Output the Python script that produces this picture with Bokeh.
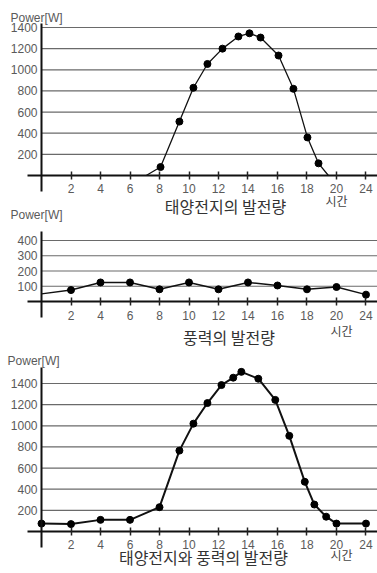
from bokeh.plotting import figure
from bokeh.models import LinearAxis, FixedTicker, Label, Range1d
from bokeh.embed import file_html
from bokeh.resources import INLINE

# ---------------- data ----------------
x_tick_hours = [2, 4, 6, 8, 10, 12, 14, 16, 18, 20, 24]
x_tick_labels = ["2", "4", "6", "8", "10", "12", "14", "16", "18", "20", "24"]

solar_hours = [7.1, 8.07, 9.35, 10.3, 11.25, 12.27, 13.35, 14.1, 14.85, 16.07, 17.08, 18.03, 18.78, 19.45]
solar_power = [0, 80, 510, 830, 1055, 1200, 1315, 1345, 1305, 1135, 820, 360, 115, 0]

wind_hours = [0, 2, 4, 6, 8, 10, 12, 14, 16, 18, 20, 24]
wind_power = [50, 75, 125, 125, 80, 125, 80, 125, 105, 80, 95, 45]

total_hours = [0, 2, 4, 6, 8, 9.35, 10.3, 11.25, 12.2, 13.0, 13.55, 14.7, 15.85, 16.8, 17.85, 18.5, 19.3, 20, 24]
total_power = [75, 70, 110, 110, 230, 765, 1020, 1215, 1385, 1455, 1510, 1445, 1245, 905, 470, 255, 140, 75, 75]

y_ticks_solar = [200, 400, 600, 800, 1000, 1200, 1400]
y_ticks_wind = [100, 200, 300, 400]
y_ticks_total = [200, 400, 600, 800, 1000, 1200, 1400]

titles = ["태양전지의 발전량", "풍력의 발전량", "태양전지와 풍력의 발전량"]
unit_label = "Power[W]"
time_label = "시간"

# -------------- helpers ---------------
def hpos(h):
    # the axis is drawn with "24" one step after "20"
    return h if h <= 20 else 20 + (h - 20) / 2.0

KFONT = "Noto Sans CJK KR"
NFONT = "Liberation Sans"
X0, X1 = -2.78, 22.78

p = figure(width=377, height=573, output_backend="svg", toolbar_location=None,
           x_range=Range1d(X0, X1), y_range=Range1d(0, 1),
           x_axis_type=None, y_axis_type=None,
           min_border=0, min_border_left=0, min_border_right=0,
           min_border_top=0, min_border_bottom=0)
p.outline_line_color = None
p.background_fill_color = "white"
p.border_fill_color = "white"
p.grid.visible = False

p.extra_y_ranges = {
    "solar": Range1d(-3764.7, 1655.3),
    "wind": Range1d(-1783.5, 1973.7),
    "total": Range1d(-397.3, 5022.7),
}


def add_chart(rname, ybounds, yticks, hours, power, marker_idx, line_w,
              power_lbl_xy, title_xy, time_xy, title_text):
    # horizontal grid lines starting at the y axis
    n = len(yticks)
    p.segment(x0=[0] * n, y0=yticks, x1=[X1] * n, y1=yticks, y_range_name=rname,
              line_color="#6a6a6a", line_width=1.2)

    # x axis crossing at y = 0
    xpos = [hpos(h) for h in x_tick_hours]
    xaxis = LinearAxis(ticker=FixedTicker(ticks=xpos), fixed_location=0,
                       y_range_name=rname, bounds=(-0.95, X1),
                       major_label_overrides={xp: lab for xp, lab in zip(xpos, x_tick_labels)})
    xaxis.axis_line_width = 2
    xaxis.axis_line_color = "#111111"
    xaxis.major_tick_in = 4
    xaxis.major_tick_out = 4
    xaxis.major_tick_line_width = 1.5
    xaxis.major_tick_line_color = "#222222"
    xaxis.minor_tick_line_color = None
    xaxis.major_label_standoff = 5
    xaxis.major_label_text_font = NFONT
    xaxis.major_label_text_font_size = "12px"
    xaxis.major_label_text_color = "#5a5a5a"
    p.add_layout(xaxis, "below")

    # y axis crossing at x = 0
    yaxis = LinearAxis(ticker=FixedTicker(ticks=yticks), fixed_location=0,
                       y_range_name=rname, bounds=ybounds)
    yaxis.axis_line_width = 2
    yaxis.axis_line_color = "#111111"
    yaxis.major_tick_in = 0
    yaxis.major_tick_out = 0
    yaxis.minor_tick_line_color = None
    yaxis.major_label_standoff = 4
    yaxis.major_label_text_font = NFONT
    yaxis.major_label_text_font_size = "12px"
    yaxis.major_label_text_color = "#5a5a5a"
    p.add_layout(yaxis, "left")

    xs = [hpos(h) for h in hours]
    p.line(xs, power, y_range_name=rname, line_color="#111111", line_width=line_w)
    mx = [xs[i] for i in marker_idx]
    my = [power[i] for i in marker_idx]
    p.scatter(mx, my, y_range_name=rname, size=7, fill_color="black", line_color="black")

    p.add_layout(Label(x=power_lbl_xy[0], y=power_lbl_xy[1], y_range_name=rname,
                       text=unit_label,
                       text_font=NFONT, text_font_size="12px", text_color="#5a5a5a",
                       text_align="left", text_baseline="middle"))
    p.add_layout(Label(x=title_xy[0], y=title_xy[1], y_range_name=rname,
                       text=title_text,
                       text_font=KFONT, text_font_size="16px", text_color="#333333",
                       text_align="center", text_baseline="middle"))
    p.add_layout(Label(x=time_xy[0], y=time_xy[1], y_range_name=rname,
                       text=time_label,
                       text_font=KFONT, text_font_size="12px", text_color="#444444",
                       text_align="center", text_baseline="middle"))


add_chart("solar", (-151, 1438), y_ticks_solar,
          solar_hours, solar_power, list(range(1, len(solar_hours) - 1)), 1.3,
          (-2.10, 1494), (12.47, -284), (20.0, -236), titles[0])
add_chart("wind", (-105, 459), y_ticks_wind,
          wind_hours, wind_power, list(range(1, len(wind_hours))), 1.5,
          (-2.10, 564), (12.71, -236), (20.34, -190), titles[1])
add_chart("total", (-151, 1551), y_ticks_total,
          total_hours, total_power, list(range(len(total_hours))), 2.0,
          (-2.30, 1617), (10.98, -245), (20.34, -220), titles[2])

open("out.html", "w").write(file_html(p, INLINE))
